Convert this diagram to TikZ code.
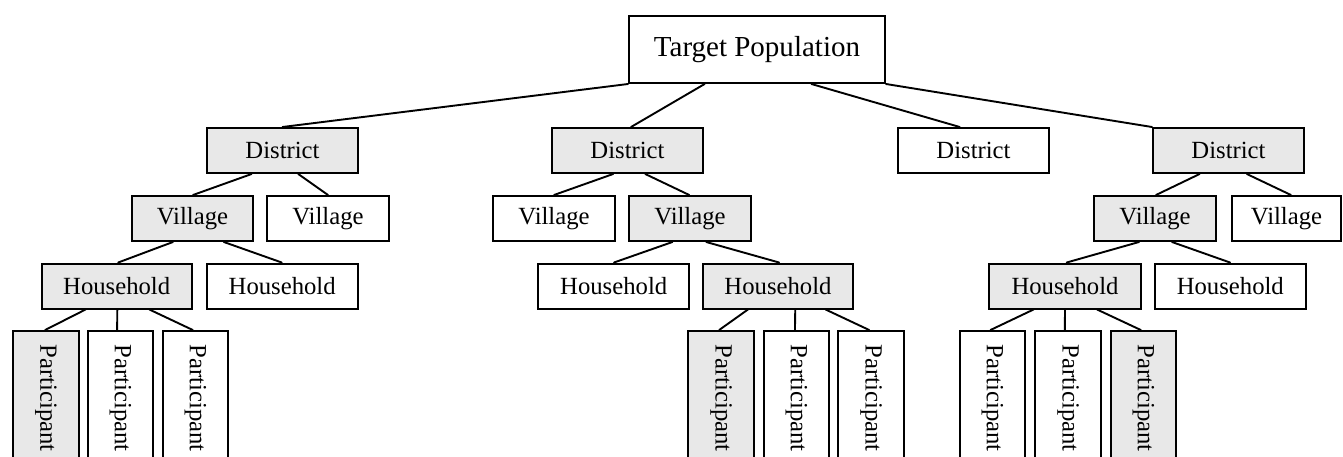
\documentclass[tikz,border=0pt]{standalone}
\usepackage{fontspec}
\setmainfont{Liberation Serif}
\usetikzlibrary{calc}
\definecolor{boxgrey}{HTML}{E8E8E8}
\newcommand\conn[4]{\draw[edge] ($(#1.south west)!#2!(#1.south east)$) -- ($(#3.north west)!#4!(#3.north east)$);}
\begin{document}
\begin{tikzpicture}[x=1pt,y=-1pt,
  box/.style={draw=black,line width=2pt,inner sep=0pt,minimum height=45pt,align=center,font=\fontsize{24.7}{28}\selectfont},
  grey/.style={box,fill=boxgrey},
  white/.style={box,fill=white},
  part/.style={minimum width=65.5pt,minimum height=134pt},
  edge/.style={line width=1.9pt,line cap=round}]
\clip (0,0) rectangle (1343,456);
% root
\node[white,minimum width=256pt,minimum height=67pt,font=\fontsize{29}{33}\selectfont] (tp) at (757,49.5) {Target Population};
% districts
\node[grey,minimum width=151pt] (d1) at (282.5,150.5) {District};
\node[grey,minimum width=151pt] (d2) at (627.5,150.5) {District};
\node[white,minimum width=151pt] (d3) at (973.5,150.5) {District};
\node[grey,minimum width=151pt] (d4) at (1228.5,150.5) {District};
% villages
\node[grey,minimum width=121pt] (v1a) at (192.5,218.5) {Village};
\node[white,minimum width=122pt] (v1b) at (328,218.5) {Village};
\node[white,minimum width=122pt] (v2a) at (554,218.5) {Village};
\node[grey,minimum width=122pt] (v2b) at (690,218.5) {Village};
\node[grey,minimum width=122pt] (v4a) at (1155,218.5) {Village};
\node[white,minimum width=109pt] (v4b) at (1286.5,218.5) {Village};
% households
\node[grey,minimum width=150pt] (h1a) at (116.7,286) {Household};
\node[white,minimum width=151pt] (h1b) at (282.2,286) {Household};
\node[white,minimum width=150.7pt] (h2a) at (613.7,286) {Household};
\node[grey,minimum width=150.6pt] (h2b) at (778,286) {Household};
\node[grey,minimum width=151.4pt] (h4a) at (1065,286) {Household};
\node[white,minimum width=150.7pt] (h4b) at (1230.3,286) {Household};
% participants
\node[grey,part] (p1a) at (45.8,398) {\rotatebox{-90}{Participant}};
\node[white,part] (p1b) at (120.5,398) {\rotatebox{-90}{Participant}};
\node[white,part] (p1c) at (195.5,398) {\rotatebox{-90}{Participant}};
\node[grey,part] (p2a) at (721.2,398) {\rotatebox{-90}{Participant}};
\node[white,part] (p2b) at (796.3,398) {\rotatebox{-90}{Participant}};
\node[white,part] (p2c) at (871.2,398) {\rotatebox{-90}{Participant}};
\node[white,part] (p4a) at (992.5,398) {\rotatebox{-90}{Participant}};
\node[white,part] (p4b) at (1068.2,398) {\rotatebox{-90}{Participant}};
\node[grey,part] (p4c) at (1143.5,398) {\rotatebox{-90}{Participant}};
% connectors
\conn{tp}{0}{d1}{0.5}
\conn{tp}{0.297}{d2}{0.523}
\conn{tp}{0.711}{d3}{0.41}
\conn{tp}{1}{d4}{0}
\conn{d1}{0.298}{v1a}{0.504}
\conn{d1}{0.603}{v1b}{0.5}
\conn{d2}{0.406}{v2a}{0.5}
\conn{d2}{0.616}{v2b}{0.494}
\conn{d4}{0.311}{v4a}{0.508}
\conn{d4}{0.62}{v4b}{0.54}
\conn{v1a}{0.341}{h1a}{0.51}
\conn{v1a}{0.755}{h1b}{0.497}
\conn{v2b}{0.358}{h2a}{0.502}
\conn{v2b}{0.631}{h2b}{0.507}
\conn{v4a}{0.371}{h4a}{0.511}
\conn{v4a}{0.637}{h4b}{0.498}
\conn{h1a}{0.295}{p1a}{0.49}
\conn{h1a}{0.504}{p1b}{0.45}
\conn{h1a}{0.715}{p1c}{0.46}
\conn{h2b}{0.303}{p2a}{0.47}
\conn{h2b}{0.613}{p2b}{0.48}
\conn{h2b}{0.812}{p2c}{0.47}
\conn{h4a}{0.295}{p4a}{0.47}
\conn{h4a}{0.5}{p4b}{0.45}
\conn{h4a}{0.709}{p4c}{0.46}
\end{tikzpicture}
\end{document}
